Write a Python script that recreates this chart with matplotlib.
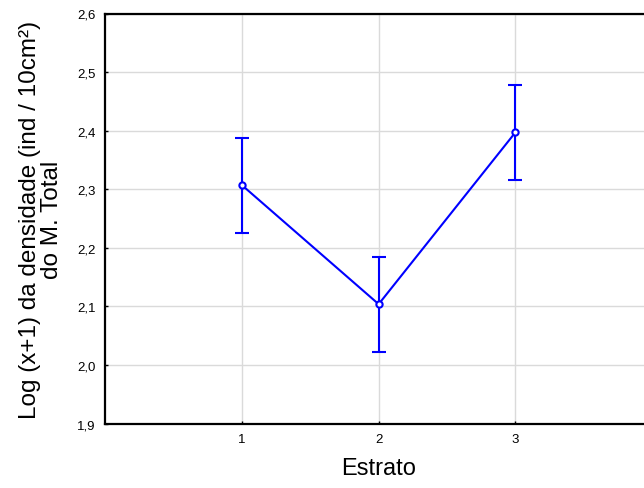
import matplotlib
matplotlib.use("Agg")
import matplotlib.pyplot as plt

categories = [1, 2, 3]
means = [2.307, 2.104, 2.397]
errors = [0.081, 0.081, 0.081]
y_ticks = [1.9, 2.0, 2.1, 2.2, 2.3, 2.4, 2.5, 2.6]
y_ticklabels = ["1,9", "2,0", "2,1", "2,2", "2,3", "2,4", "2,5", "2,6"]

plt.rcParams['font.family'] = ['Liberation Sans', 'DejaVu Sans']

fig = plt.figure(figsize=(6.44, 4.89), dpi=100)
W, H = 644, 489
left, right, top, bottom = 105.3, 652.0, 14.5, 424.7
ax = fig.add_axes([left / W, 1 - bottom / H, (right - left) / W, (bottom - top) / H])

ax.errorbar(categories, means, yerr=errors, color='#0000ff', lw=1.5,
            capsize=4.8, capthick=1.5, elinewidth=1.5,
            marker='o', markersize=4.5, markerfacecolor='white',
            markeredgecolor='#0000ff', markeredgewidth=1.5, zorder=3)

ax.set_xlim(0, 4)
ax.set_ylim(1.9, 2.6)
ax.set_xticks(categories)
ax.set_xticklabels([str(c) for c in categories])
ax.set_yticks(y_ticks)
ax.set_yticklabels(y_ticklabels)
ax.grid(True, color='#dadada', lw=1.0, zorder=0)
ax.set_axisbelow(True)
ax.tick_params(axis='both', labelsize=9.5, length=2, width=1, direction='in', pad=7)
for s in ax.spines.values():
    s.set_linewidth(1.6)
    s.set_color('black')

ax.set_xlabel("Estrato", fontsize=17, labelpad=8)
ax.set_ylabel("Log (x+1) da densidade (ind / 10cm²)\ndo M. Total", fontsize=17.5,
              labelpad=10, linespacing=1.0)

fig.savefig("out.png", dpi=100)
